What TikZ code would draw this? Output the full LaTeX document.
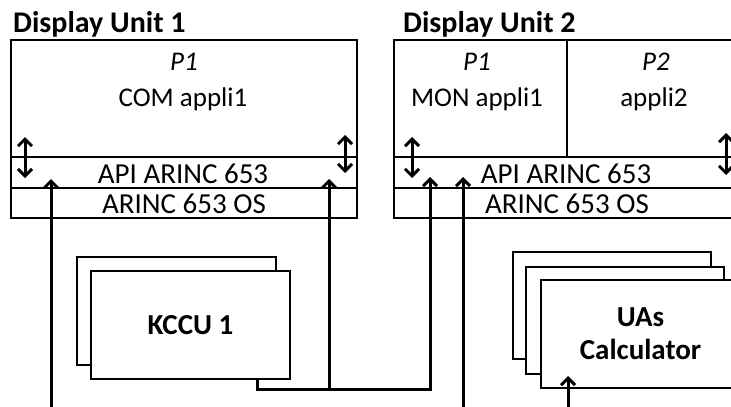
\documentclass[tikz,border=0pt]{standalone}
\usepackage{fontspec}
\setmainfont{Carlito}
\usetikzlibrary{arrows.meta}
\tikzset{
  box/.style={draw, line width=2.6pt, inner sep=0pt, outer sep=0pt, anchor=north west, fill=white},
  lbl/.style={anchor=base, inner sep=0pt, font=\fontsize{27}{33}\selectfont},
  big/.style={anchor=base, inner sep=0pt, font=\fontsize{29}{33}\selectfont},
  ttl/.style={anchor=base west, inner sep=0pt, font=\fontsize{30}{36}\selectfont\bfseries},
  bold/.style={font=\fontsize{29}{33}\selectfont\bfseries},
  wire/.style={line width=3pt},
  upar/.style={wire, -{Straight Barb[length=7pt,width=14pt]}},
  dbl/.style={wire, {Straight Barb[length=7pt,width=14pt]}-{Straight Barb[length=7pt,width=14pt]}},
}
\begin{document}
\begin{tikzpicture}[x=1pt,y=-1pt]
\useasboundingbox (0,0) rectangle (731,407);
\clip (0,0) rectangle (731,407);
% titles
\node[ttl] (t1) at (13,32) {Display Unit 1};
\node[ttl] (t2) at (403,32) {Display Unit 2};
% Display unit 1
\node[box, minimum width=346pt, minimum height=117pt] (a1) at (11,40) {};
\node[box, minimum width=346pt, minimum height=31pt] (api1) at (11,157) {};
\node[box, minimum width=346pt, minimum height=30pt] (os1) at (11,188) {};
\node[lbl] (p1a) at (184,70) {\itshape P1};
\node[lbl] (com) at (183,106) {COM appli1};
\node[big] (apit1) at (183,183) {API ARINC 653};
\node[big] (ost1) at (184,213) {ARINC 653 OS};
% Display unit 2
\node[box, minimum width=173pt, minimum height=117pt] (a2) at (394,40) {};
\node[box, minimum width=173pt, minimum height=117pt] (a3) at (567,40) {};
\node[box, minimum width=346pt, minimum height=31pt] (api2) at (394,157) {};
\node[box, minimum width=346pt, minimum height=30pt] (os2) at (394,188) {};
\node[lbl] (p1b) at (477,70) {\itshape P1};
\node[lbl] (mon) at (477,106) {MON appli1};
\node[lbl] (p2) at (656,70) {\itshape P2};
\node[lbl] (app2) at (654,106) {appli2};
\node[big] (apit2) at (566,183) {API ARINC 653};
\node[big] (ost2) at (567,213) {ARINC 653 OS};
% KCCU
\node[box, minimum width=199pt, minimum height=108pt] (kb) at (77,257) {};
\node[box, bold, minimum width=199pt, minimum height=108pt] (kccu) at (91,271) {KCCU 1};
% UAs calculators
\node[box, minimum width=198pt, minimum height=107pt] (ub1) at (513,252) {};
\node[box, minimum width=198pt, minimum height=107pt] (ub2) at (526,267) {};
\node[box, bold, minimum width=199pt, minimum height=108pt, align=center] (uas) at (541,280) {UAs\\Calculator};
% double arrows
\coordinate (d1a) at (25,137); \coordinate (d1b) at (25,178);
\coordinate (d2a) at (345,135); \coordinate (d2b) at (345,173);
\coordinate (d3a) at (412,137); \coordinate (d3b) at (412,178);
\coordinate (d4a) at (726,133); \coordinate (d4b) at (726,175);
\draw[dbl] (d1a) -- (d1b);
\draw[dbl] (d2a) -- (d2b);
\draw[dbl] (d3a) -- (d3b);
\draw[dbl] (d4a) -- (d4b);
% connectors
\coordinate (e1) at (51,412); \coordinate (h1) at (51,179);
\coordinate (j1) at (329,389); \coordinate (h2) at (329,179);
\coordinate (k1) at (257,389); \coordinate (h3) at (430,177);
\coordinate (e4) at (463,412); \coordinate (h4) at (463,177);
\coordinate (e5) at (568,412); \coordinate (h5) at (568,376);
\draw[upar] (e1) -- (h1);
\draw[upar] (j1) -- (h2);
\draw[upar, line join=miter] (kccu.south -| k1) -- (k1) -| (h3);
\draw[upar] (e4) -- (h4);
\draw[upar] (e5) -- (h5);
\end{tikzpicture}
\end{document}
